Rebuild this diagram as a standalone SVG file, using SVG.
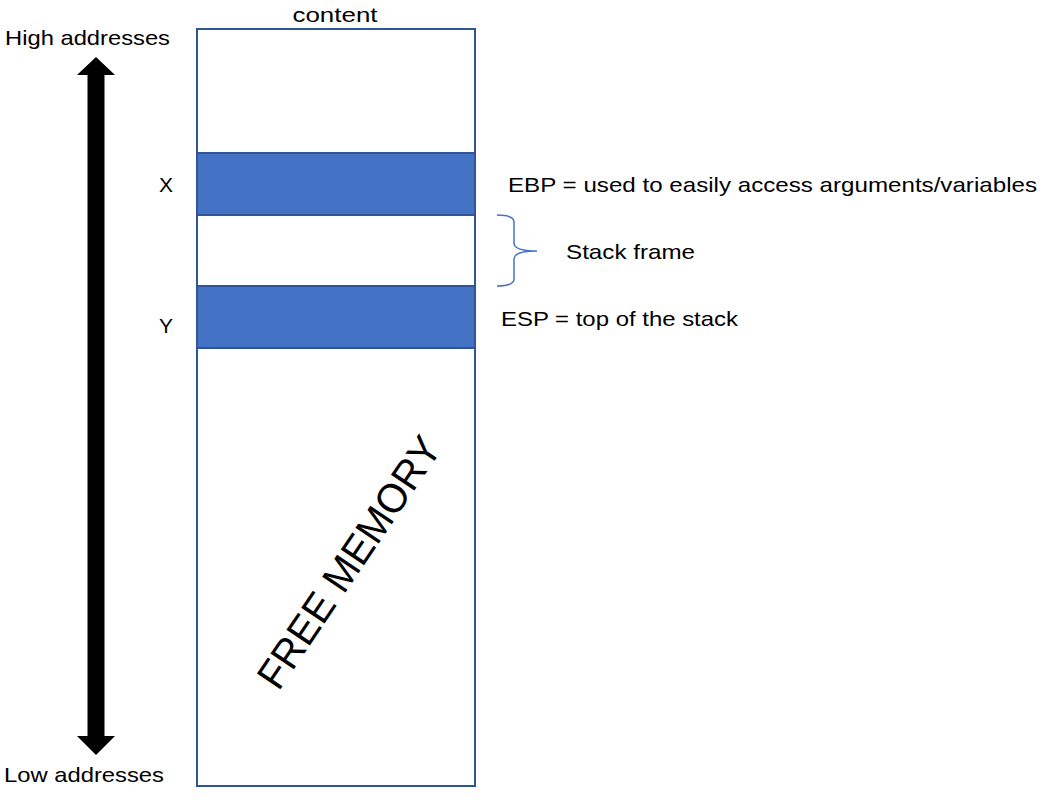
<svg xmlns="http://www.w3.org/2000/svg" width="1048" height="800" viewBox="0 0 1048 800">
<style>
text{font-family:"Liberation Sans","Open Sans",sans-serif;font-size:21px;fill:#000}
.box{stroke:#2F5597;stroke-width:2}
</style>
<rect width="1048" height="800" fill="#fff"/>
<g id="memory">
<rect class="box" x="197" y="29" width="278" height="757" fill="#fff"/>
<text x="335" y="22" text-anchor="middle" textLength="85" lengthAdjust="spacingAndGlyphs">content</text>
</g>
<g id="ebp-band">
<rect class="box" x="197" y="153" width="278" height="62" fill="#4472C4"/>
<text x="166" y="192" text-anchor="middle">X</text>
<text x="508" y="192" textLength="529" lengthAdjust="spacingAndGlyphs">EBP = used to easily access arguments/variables</text>
</g>
<g id="esp-band">
<rect class="box" x="197" y="286" width="278" height="62" fill="#4472C4"/>
<text x="166" y="333" text-anchor="middle">Y</text>
<text x="501" y="326" textLength="237" lengthAdjust="spacingAndGlyphs">ESP = top of the stack</text>
</g>
<g id="free-memory">
<text x="278.5" y="692" transform="rotate(-56 278.5 692)" style="font-size:41px" textLength="294" lengthAdjust="spacingAndGlyphs">FREE MEMORY</text>
</g>
<g id="stack-frame">
<path d="M497 215 Q514 215 514 222 L514 243 Q514 251 537 251 Q514 251 514 259 L514 279 Q514 286 497 286" fill="none" stroke="#4472C4" stroke-width="1.5"/>
<text x="566" y="259" textLength="129" lengthAdjust="spacingAndGlyphs">Stack frame</text>
</g>
<g id="connectors">
<polygon points="96,57 115,75 104.5,75 104.5,736 115,736 96,755 77,736 87.5,736 87.5,75 77,75" fill="#000"/>
</g>
<g id="labels">
<text x="5" y="45" textLength="165" lengthAdjust="spacingAndGlyphs">High addresses</text>
<text x="4" y="782" textLength="160" lengthAdjust="spacingAndGlyphs">Low addresses</text>
</g>
</svg>
